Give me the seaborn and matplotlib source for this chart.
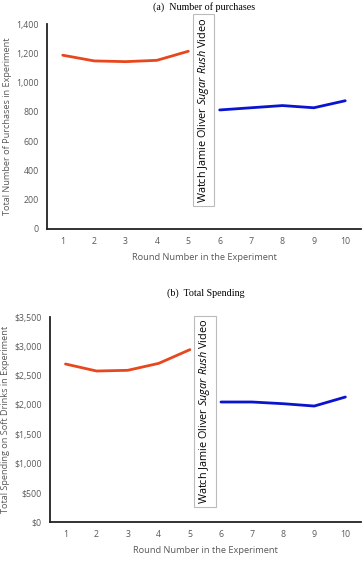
import matplotlib
matplotlib.use("Agg")
import matplotlib.pyplot as plt
import seaborn as sns
import pandas as pd
from matplotlib.ticker import FuncFormatter

sns.set_theme(style="white")
plt.rcParams['font.family'] = ['Open Sans', 'DejaVu Sans']
plt.rcParams['mathtext.fontset'] = 'custom'
plt.rcParams['mathtext.rm'] = 'Open Sans'
plt.rcParams['mathtext.it'] = 'Open Sans:italic'

rounds = [1, 2, 3, 4, 5, 6, 7, 8, 9, 10]
purchases_before = [1187, 1148, 1143, 1152, 1214]
purchases_after = [813, 828, 843, 828, 876]
spending_before = [2698, 2578, 2590, 2709, 2943]
spending_after = [2049, 2049, 2020, 1980, 2134]
period_labels = ["Before", "After"]

df_p = pd.DataFrame({
    "round": rounds,
    "value": purchases_before + purchases_after,
    "period": [period_labels[0]] * 5 + [period_labels[1]] * 5,
})
df_s = pd.DataFrame({
    "round": rounds,
    "value": spending_before + spending_after,
    "period": [period_labels[0]] * 5 + [period_labels[1]] * 5,
})

palette = {"Before": "#E8471E", "After": "#0A14D0"}
tick_col = "#595959"

fig = plt.figure(figsize=(3.62, 5.65), dpi=100)
ax1 = fig.add_axes([0.130, 0.5947, 0.867, 0.3628])
ax2 = fig.add_axes([0.138, 0.0761, 0.859, 0.3628])

video_text = r"Watch Jamie Oliver $\mathit{Sugar\ Rush}$ Video"

for ax, df, ymax, step, title, ylabel, fmt, ycen, tpad in [
    (ax1, df_p, 1400, 200, "(a)  Number of purchases",
     "Total Number of Purchases in Experiment", lambda v, p: f"{int(v):,}", 0.58, 10),
    (ax2, df_s, 3500, 500, "(b)  Total Spending",
     "Total Spending on Soft Drinks in Experiment", lambda v, p: f"${int(v):,}", 0.539, 15),
]:
    sns.lineplot(data=df, x="round", y="value", hue="period", palette=palette,
                 linewidth=2.0, ax=ax, legend=False)
    ax.set_xlim(0.5, 10.5)
    ax.set_ylim(0, ymax)
    ax.set_xticks(rounds)
    ax.set_yticks(range(0, ymax + 1, step))
    ax.yaxis.set_major_formatter(FuncFormatter(fmt))
    ax.tick_params(axis="both", labelsize=6.3, colors=tick_col, length=0, pad=6)
    for s in ["top", "right"]:
        ax.spines[s].set_visible(False)
    for s in ["left", "bottom"]:
        ax.spines[s].set_color("#222222")
        ax.spines[s].set_linewidth(1.3)
    ax.set_xlabel("Round Number in the Experiment", fontsize=6.7, color=tick_col, labelpad=5)
    ax.set_ylabel(ylabel, fontsize=6.6, color=tick_col, labelpad=3)
    ax.set_title(title, fontsize=7.2, family="Liberation Serif", color="black", pad=tpad)
    ax.text(5.48, ycen, video_text, transform=ax.get_xaxis_transform(),
            rotation=90, ha="center", va="center", fontsize=7.8, color="black",
            clip_on=False,
            bbox=dict(boxstyle="square,pad=0.3", facecolor="white", edgecolor="#BBBBBB", linewidth=0.8))

fig.savefig("out.png", dpi=100)
